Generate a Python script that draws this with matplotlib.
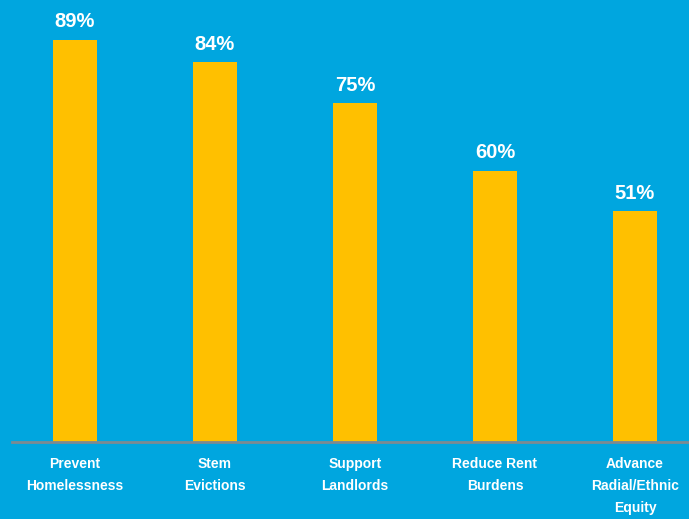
import numpy as np
import matplotlib.pyplot as plt

categories = ['Prevent\nHomelessness', 'Stem\nEvictions', 'Support\nLandlords',
              'Reduce Rent\nBurdens', 'Advance\nRadial/Ethnic\nEquity']
values = [89, 84, 75, 60, 51]

bg = '#00a6df'
bar_col = '#ffc000'

fig = plt.figure(figsize=(6.89, 5.19), dpi=100, facecolor=bg)
ax = fig.add_axes([12/689, 1 - 442/519, 677/689, 429.5/519])
ax.set_facecolor(bg)

x = np.arange(len(values))
bars = ax.bar(x, values, width=0.314, color=bar_col, zorder=2)

for b, v in zip(bars, values):
    ax.annotate(f'{v}%', (b.get_x() + b.get_width()/2, v), xytext=(0, 6),
                textcoords='offset points', ha='center', va='bottom',
                color='white', fontsize=14.5, fontweight='bold',
                family='Liberation Sans')

ax.set_xlim(-0.45, 4.386)
ax.set_ylim(0, 95)
ax.set_xticks(x)
ax.set_xticklabels(categories, color='white', fontsize=10, fontweight='bold',
                   family='Liberation Sans', linespacing=1.7)
ax.tick_params(axis='x', length=0, pad=11)
ax.set_yticks([])
for s in ['top', 'right', 'left']:
    ax.spines[s].set_visible(False)
ax.spines['bottom'].set_color('#7d8a91')
ax.spines['bottom'].set_linewidth(2)
ax.spines['bottom'].set_zorder(3)

fig.savefig('out.png', dpi=100, facecolor=bg)
